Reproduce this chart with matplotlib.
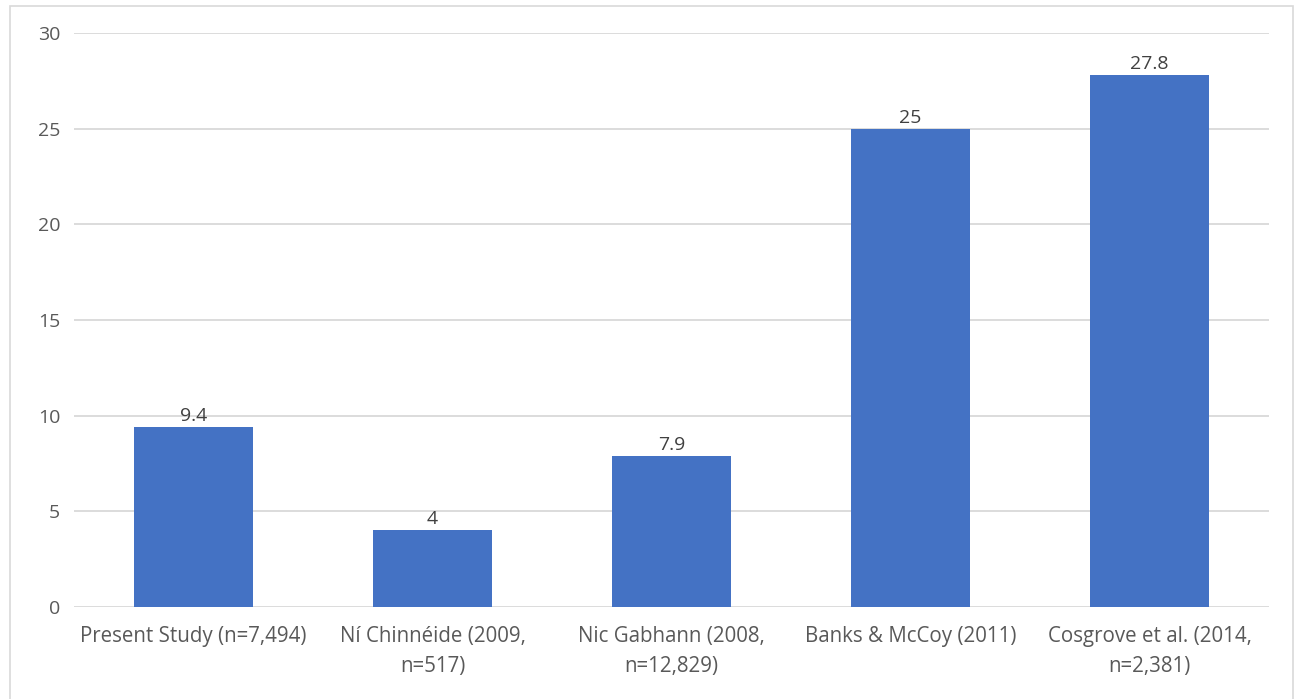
import matplotlib
matplotlib.use("Agg")
import matplotlib.pyplot as plt
from matplotlib.patches import Rectangle

categories = [
    "Present Study (n=7,494)",
    "Ní Chinnéide (2009,\nn=517)",
    "Nic Gabhann (2008,\nn=12,829)",
    "Banks & McCoy (2011)",
    "Cosgrove et al. (2014,\nn=2,381)",
]
values = [9.4, 4, 7.9, 25, 27.8]
value_labels = ["9.4", "4", "7.9", "25", "27.8"]
yticks = [0, 5, 10, 15, 20, 25, 30]

plt.rcParams["font.family"] = ["Open Sans", "DejaVu Sans"]

W, H = 1298, 699
fig = plt.figure(figsize=(W / 100, H / 100), dpi=100)
fig.patch.set_facecolor("white")

# outer frame around the chart
fig.add_artist(Rectangle((10 / W, -0.02), 1283 / W, 1.02 - 6 / H,
                         transform=fig.transFigure, fill=False,
                         edgecolor="#d9d9d9", linewidth=1.2))

ax = fig.add_axes([74 / W, 1 - 607 / H, (1269 - 74) / W, (607 - 33) / H])
x = list(range(len(categories)))
bars = ax.bar(x, values, width=0.5, color="#4472C4", zorder=3)

ax.set_xlim(-0.5, len(categories) - 0.5)
ax.set_ylim(0, 30)
ax.set_yticks(yticks)
ax.set_yticklabels([str(t) for t in yticks])
ax.set_xticks(x)
ax.set_xticklabels(categories, linespacing=1.55)

ax.grid(axis="y", color="#d9d9d9", linewidth=1.3, zorder=0)
ax.set_axisbelow(True)
for s in ax.spines.values():
    s.set_visible(False)
ax.tick_params(axis="y", length=0, labelsize=14, colors="#595959", pad=10)
ax.tick_params(axis="x", length=0, labelsize=14.8, colors="#595959", pad=14)

for b, lab in zip(bars, value_labels):
    ax.annotate(lab, (b.get_x() + b.get_width() / 2, b.get_height()),
                xytext=(0, 1.5), textcoords="offset points",
                ha="center", va="bottom", fontsize=14, color="#404040")

fig.savefig("out.png", dpi=100, facecolor="white")
